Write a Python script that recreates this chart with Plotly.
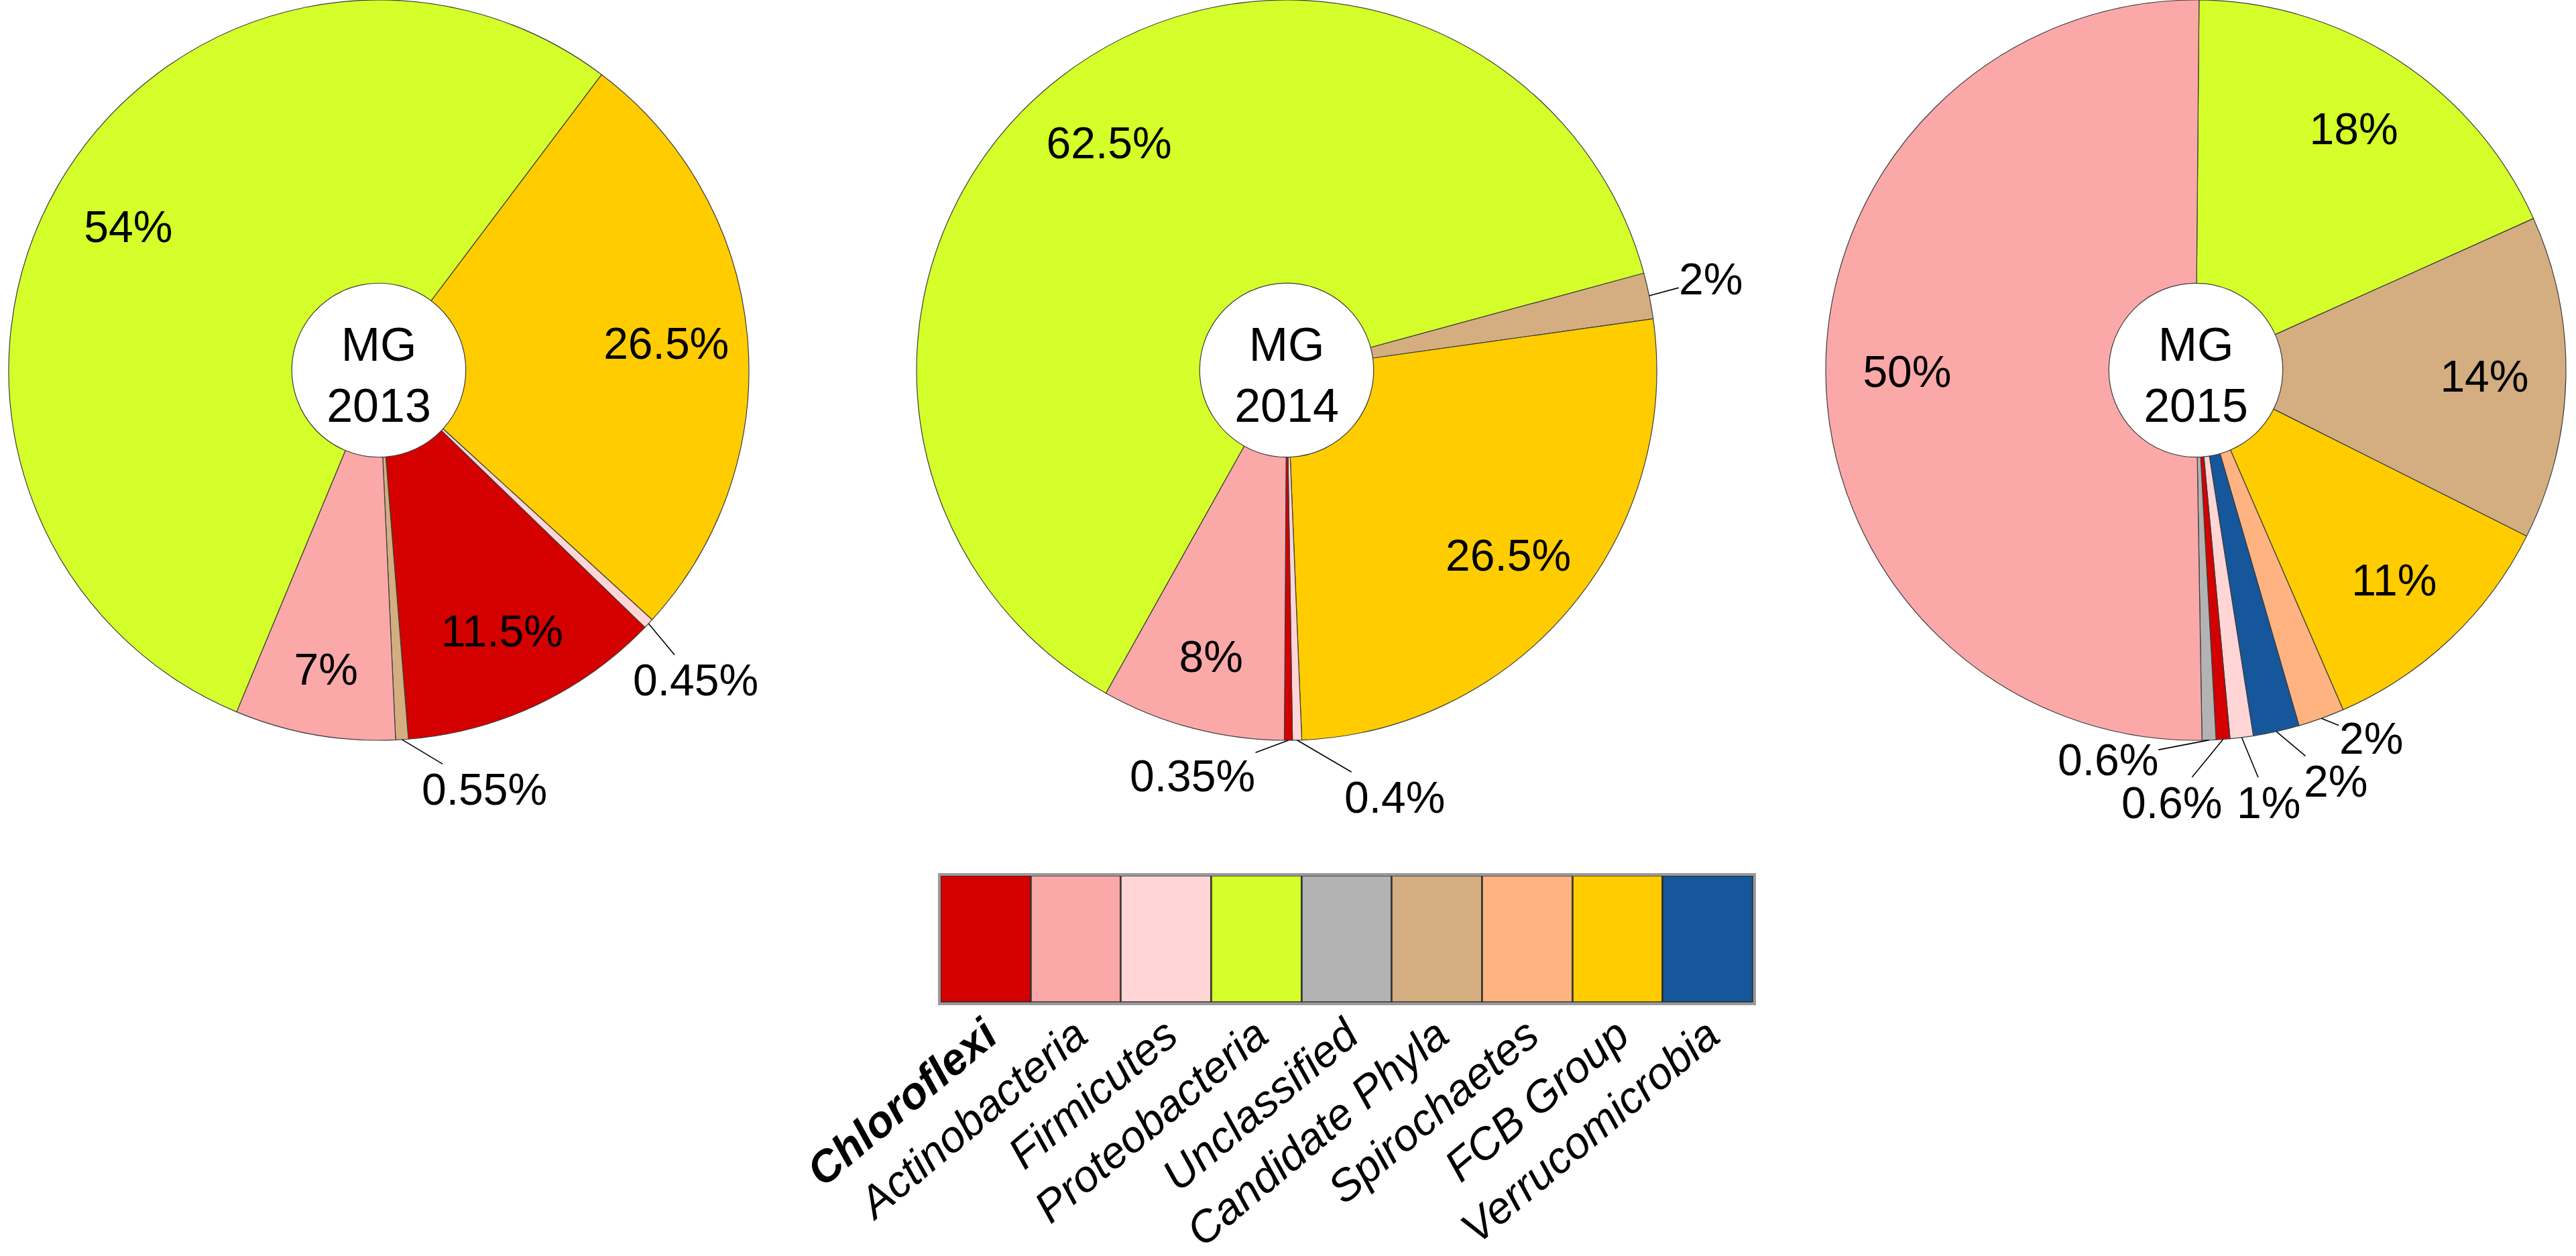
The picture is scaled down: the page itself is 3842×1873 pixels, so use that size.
import math
import plotly.graph_objects as go

# ---------------- data ----------------
categories = ["Chloroflexi", "Actinobacteria", "Firmicutes", "Proteobacteria",
              "Unclassified", "Candidate Phyla", "Spirochaetes", "FCB Group",
              "Verrucomicrobia"]
category_ticktext = ["<b><i>Chloroflexi</i></b>", "<i>Actinobacteria</i>", "<i>Firmicutes</i>",
                     "<i>Proteobacteria</i>", "<i>Unclassified</i>", "<i>Candidate Phyla</i>",
                     "<i>Spirochaetes</i>", "<i>FCB Group</i>", "<i>Verrucomicrobia</i>"]
legend_values = [1, 1, 1, 1, 1, 1, 1, 1, 1]

samples = ["MG<br>2013", "MG<br>2014", "MG<br>2015"]

mg2013_phyla = ["FCB Group", "Firmicutes", "Chloroflexi", "Candidate Phyla",
                "Actinobacteria", "Proteobacteria"]
mg2013_values = [26.5, 0.45, 11.5, 0.55, 7, 54]
mg2013_text = ["26.5%", "0.45%", "11.5%", "0.55%", "7%", "54%"]

mg2014_phyla = ["Candidate Phyla", "FCB Group", "Firmicutes", "Chloroflexi",
                "Actinobacteria", "Proteobacteria"]
mg2014_values = [2, 26.5, 0.4, 0.35, 8, 62.5]
mg2014_text = ["2%", "26.5%", "0.4%", "0.35%", "8%", "62.5%"]

mg2015_phyla = ["Proteobacteria", "Candidate Phyla", "FCB Group", "Spirochaetes",
                "Verrucomicrobia", "Firmicutes", "Chloroflexi", "Unclassified",
                "Actinobacteria"]
mg2015_values = [18, 14, 11, 2, 2, 1, 0.6, 0.6, 50]
mg2015_text = ["18%", "14%", "11%", "2%", "2%", "1%", "0.6%", "0.6%", "50%"]

# ---------------- styles / layout ----------------
category_colors = ["#D40000", "#FBA8A9", "#FFD5D5", "#D4FF2A", "#B3B3B3",
                   "#D4AE80", "#FFB381", "#FFCC00", "#16569A"]
color_of = dict(zip(categories, category_colors))
FONT = "Arial, Liberation Sans, sans-serif"
W, H = 3842, 1873
FS = 66
R = 552          # pie radius in px
CY = 552         # pie centre (px from top)
SMALL = 5        # slices below this get an outside label with a leader line

pie_centres_x = [565, 1919, 3275]
pie_rotations = [37.0, 74.8, 0.5]
# pixel offsets of outside labels from the slice edge
label_offsets = [
    {"Firmicutes": (70, 84), "Candidate Phyla": (123, 74)},
    {"Candidate Phyla": (92, -25), "Firmicutes": (145, 85), "Chloroflexi": (-143, 53)},
    {"Spirochaetes": (74, 30), "Verrucomicrobia": (88, 74), "Firmicutes": (40, 97),
     "Chloroflexi": (-77, 94), "Unclassified": (-151, 29)},
]

pie_data = [(mg2013_phyla, mg2013_values, mg2013_text),
            (mg2014_phyla, mg2014_values, mg2014_text),
            (mg2015_phyla, mg2015_values, mg2015_text)]

fig = go.Figure()
annotations = []
for k, (phyla, vals, txt) in enumerate(pie_data):
    cx = pie_centres_x[k]
    rot = pie_rotations[k]
    domain = dict(x=[(cx - R) / W, (cx + R) / W],
                  y=[1 - (CY + R) / H, 1 - (CY - R) / H])
    # coloured slices
    fig.add_trace(go.Pie(
        labels=phyla, values=vals, textinfo="none",
        sort=False, direction="clockwise", rotation=rot, hole=0.235,
        marker=dict(colors=[color_of[p] for p in phyla],
                    line=dict(color="#3c3c3c", width=1.2)),
        title=dict(text=samples[k], position="middle center",
                   font=dict(family=FONT, size=70, color="black")),
        domain=domain, showlegend=False, hoverinfo="label+percent",
    ))
    # transparent overlay pie carrying the inside percentage labels
    fig.add_trace(go.Pie(
        labels=phyla, values=vals, text=[t if v >= SMALL else "" for t, v in zip(txt, vals)],
        textinfo="text", texttemplate="%{text}",
        textposition=["inside" if v >= SMALL else "none" for v in vals],
        insidetextorientation="horizontal",
        sort=False, direction="clockwise", rotation=rot, hole=0.56,
        marker=dict(colors=["rgba(0,0,0,0)"] * len(vals), line=dict(width=0)),
        insidetextfont=dict(family=FONT, size=FS, color="black"),
        domain=domain, showlegend=False, hoverinfo="skip",
    ))
    # outside labels with leader lines, anchored at each small slice's mid-angle
    total = sum(vals)
    start = rot
    for p, v, t in zip(phyla, vals, txt):
        span = 360.0 * v / total
        mid = math.radians(start + span / 2)
        start += span
        if v >= SMALL:
            continue
        px = cx + R * math.sin(mid)
        py = CY - R * math.cos(mid)
        ax, ay = label_offsets[k][p]
        annotations.append(dict(
            x=px / W, y=1 - py / H, xref="paper", yref="paper",
            text=t, showarrow=True, arrowhead=0, arrowwidth=1.6, arrowcolor="black",
            standoff=0, ax=ax, ay=ay, borderpad=0,
            font=dict(family=FONT, size=FS, color="black"),
        ))

# colour key drawn as a row of equal bars
fig.add_trace(go.Bar(
    x=categories, y=legend_values,
    marker=dict(color=category_colors, line=dict(color="rgba(40,40,40,0.75)", width=3)),
    showlegend=False, hoverinfo="x",
))

fig.update_layout(
    width=W, height=H, margin=dict(l=0, r=0, t=0, b=0, autoexpand=False),
    paper_bgcolor="white", plot_bgcolor="white",
    bargap=0, showlegend=False, annotations=annotations,
    xaxis=dict(domain=[1403 / W, 2615 / W], tickvals=categories, ticktext=category_ticktext,
               tickangle=-40, tickfont=dict(family=FONT, size=FS, color="black"),
               ticklabelstandoff=-20,
               showline=True, mirror=True, linecolor="#9a9a9a", linewidth=4,
               showgrid=False, zeroline=False, ticks="", automargin=False),
    yaxis=dict(domain=[1 - 1495 / H, 1 - 1306 / H], range=[0, 1], showticklabels=False,
               showline=True, mirror=True, linecolor="#9a9a9a", linewidth=4,
               showgrid=False, zeroline=False, ticks="", automargin=False),
)

fig.write_html("out.html", config={"displayModeBar": False},
               post_script="document.body.style.margin='0';document.body.style.overflow='hidden';")
